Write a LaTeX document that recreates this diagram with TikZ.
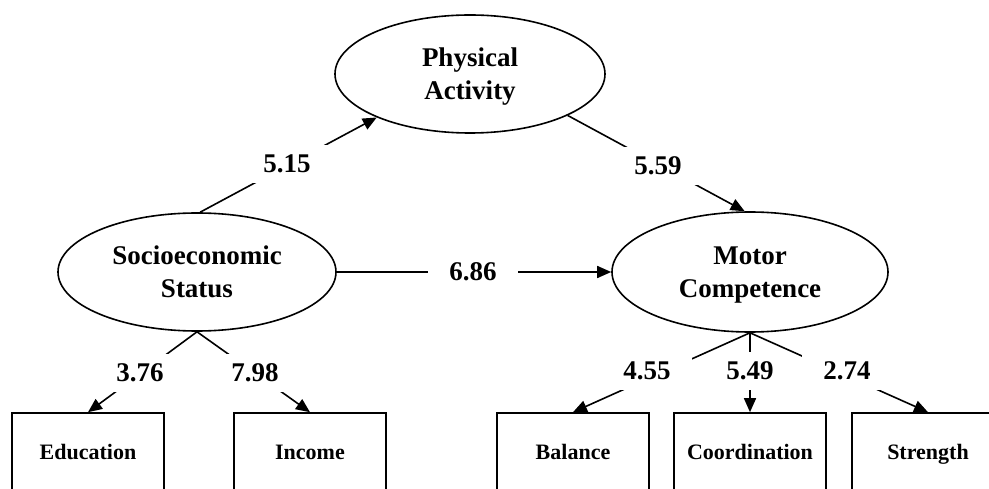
\documentclass[tikz,border=0pt]{standalone}
\usepackage{fontspec}
\setmainfont{Liberation Serif}
\usetikzlibrary{arrows.meta,shapes.geometric}
\begin{document}
\begin{tikzpicture}[x=1pt,y=-1pt,
  latent/.style={ellipse,draw,line width=1.6pt,inner sep=0pt,align=center,text depth=0pt,
    font=\fontsize{27}{33}\selectfont\bfseries},
  observed/.style={rectangle,draw,line width=1.6pt,minimum width=152pt,minimum height=87pt,
    text height=0.7em,text depth=0.2em,font=\fontsize{22}{26}\selectfont\bfseries},
  conn/.style={line width=1.6pt,-{Triangle[length=14pt,width=12pt]}},
  coef/.style={fill=white,inner xsep=21pt,inner ysep=10pt,font=\fontsize{27}{33}\selectfont\bfseries}
]
\useasboundingbox (0,0) rectangle (989,489);
\clip (0,0) rectangle (989,489);
\fill[white] (0,0) rectangle (989,489);

\node[latent,minimum width=270pt,minimum height=118pt] (pa) at (470,74) {Physical\\Activity};
\node[latent,minimum width=278pt,minimum height=118pt] (ses) at (197,272) {Socioeconomic\\Status};
\node[latent,minimum width=276pt,minimum height=120pt] (mc) at (750,272) {Motor\\Competence};

\node[observed] (edu) at (88,456.5) {Education};
\node[observed] (inc) at (310,456.5) {Income};
\node[observed] (bal) at (573,456.5) {Balance};
\node[observed] (coo) at (750,456.5) {Coordination};
\node[observed] (str) at (928,456.5) {Strength};

\draw[conn] (ses.87) -- (pa.205);
\draw[conn] (pa.337) -- (mc.95);
\draw[conn] (ses.east) -- (mc.west);
\draw[conn] (ses.south) -- (edu.north);
\draw[conn] (ses.south) -- (inc.north);
\draw[conn] (mc.south) -- (bal.north);
\draw[conn] (mc.south) -- (coo.north);
\draw[conn] (mc.south) -- (str.north);

\node[coef] (c1) at (287,164) {5.15};
\node[coef] (c2) at (658,166) {5.59};
\node[coef] (c3) at (473,272) {6.86};
\node[coef] (c4) at (140,373) {3.76};
\node[coef] (c5) at (255,373) {7.98};
\node[coef] (c6) at (647,371) {4.55};
\node[coef,inner xsep=8pt] (c7) at (750,371) {5.49};
\node[coef] (c8) at (847,371) {2.74};
\end{tikzpicture}
\end{document}
